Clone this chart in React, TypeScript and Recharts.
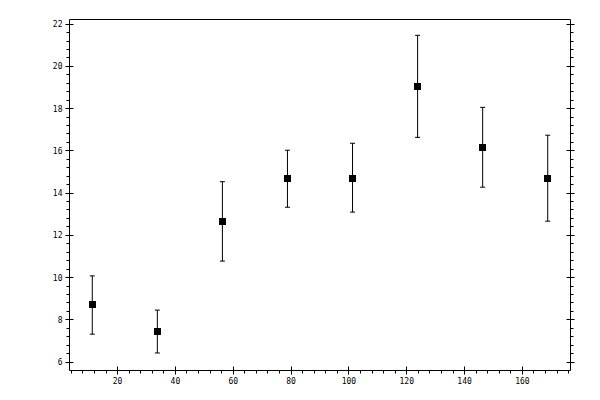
import { ScatterChart, Scatter, XAxis, YAxis, ErrorBar } from "recharts";

const X_VALUES = [11.25, 33.75, 56.25, 78.75, 101.25, 123.75, 146.25, 168.75];
const Y_VALUES = [8.71, 7.47, 12.67, 14.7, 14.7, 19.06, 16.17, 14.7];
const Y_LOW = [7.32, 6.43, 10.78, 13.33, 13.1, 16.64, 14.28, 12.67];
const Y_HIGH = [10.08, 8.46, 14.54, 16.03, 16.36, 21.47, 18.06, 16.74];

const X_LABELS = [20, 40, 60, 80, 100, 120, 140, 160];
const Y_LABELS = [6, 8, 10, 12, 14, 16, 18, 20, 22];
const X_DOMAIN: [number, number] = [3.375, 176.625];
const Y_DOMAIN: [number, number] = [5.6, 22.22];
const X_MINOR_STEP = 4;
const Y_MINOR_STEP = 0.4;

const data = X_VALUES.map((x, i) => ({
  x,
  y: Y_VALUES[i],
  err: [Y_VALUES[i] - Y_LOW[i], Y_HIGH[i] - Y_VALUES[i]],
}));

// majors plus the minor ticks between them, kept inside the domain
function withMinor(majors: number[], step: number, domain: [number, number]) {
  const spacing = majors[1] - majors[0];
  const n = Math.round(spacing / step);
  const out: number[] = [];
  for (let j = -1; j <= majors.length; j++) {
    const m = majors[0] + j * spacing;
    for (let k = 0; k < n; k++) {
      const v = +(m + k * step).toFixed(3);
      if (v > domain[0] + 1e-6 && v < domain[1] - 1e-6) out.push(v);
    }
  }
  return out;
}

const xTicks = withMinor(X_LABELS, X_MINOR_STEP, X_DOMAIN);
const yTicks = withMinor(Y_LABELS, Y_MINOR_STEP, Y_DOMAIN);

const FONT = "'DejaVu Sans Mono', monospace";

function makeTick(side: "bottom" | "top" | "left" | "right") {
  const majors = side === "bottom" || side === "top" ? X_LABELS : Y_LABELS;
  return (props: any) => {
    const { x, y, payload } = props;
    const v = payload.value;
    const major = majors.includes(v);
    const px = Math.floor(x) + 0.5;
    const py = Math.floor(y) + 0.5;
    let line;
    if (side === "bottom" || side === "top") {
      const out = side === "bottom" ? 1 : -1;
      line = major ? (
        <line x1={px} x2={px} y1={py - 4} y2={py + 4} stroke="#000" />
      ) : (
        <line x1={px} x2={px} y1={py} y2={py + out * 3} stroke="#000" />
      );
    } else {
      const out = side === "right" ? 1 : -1;
      line = major ? (
        <line x1={px - 4} x2={px + 4} y1={py} y2={py} stroke="#000" />
      ) : (
        <line x1={px} x2={px + out * 3} y1={py} y2={py} stroke="#000" />
      );
    }
    return (
      <g>
        {line}
        {major && side === "bottom" && (
          <text x={x} y={y + 13} textAnchor="middle" fontSize={8} fontFamily={FONT} fill="#000">
            {v}
          </text>
        )}
        {major && side === "left" && (
          <text x={x - 7} y={y + 3} textAnchor="end" fontSize={8} fontFamily={FONT} fill="#000">
            {v}
          </text>
        )}
      </g>
    );
  };
}

const SquareDot = (props: any) => {
  const { cx, cy } = props;
  return <rect x={Math.floor(cx) - 3} y={Math.floor(cy) - 3} width={7} height={7} fill="#000" />;
};

const axisLine = { stroke: "#000", strokeWidth: 1 };

export default function App() {
  return (
    <div style={{ position: "absolute", left: 0, top: 0, background: "#fff" }}>
      <ScatterChart
        width={600}
        height={400}
        margin={{ top: 0.5, right: 0.5, bottom: 0.5, left: 0.5 }}
      >
        <XAxis
          xAxisId="bottom"
          orientation="bottom"
          type="number"
          dataKey="x"
          domain={X_DOMAIN}
          allowDataOverflow
          ticks={xTicks}
          interval={0}
          height={29}
          tickSize={0}
          tickMargin={0}
          axisLine={axisLine}
          tickLine={false}
          tick={makeTick("bottom")}
        />
        <XAxis
          xAxisId="top"
          orientation="top"
          type="number"
          domain={X_DOMAIN}
          allowDataOverflow
          ticks={xTicks}
          interval={0}
          height={19}
          tickSize={0}
          tickMargin={0}
          axisLine={axisLine}
          tickLine={false}
          tick={makeTick("top")}
        />
        <YAxis
          yAxisId="left"
          orientation="left"
          type="number"
          dataKey="y"
          domain={Y_DOMAIN}
          allowDataOverflow
          ticks={yTicks}
          interval={0}
          width={69}
          tickSize={0}
          tickMargin={0}
          axisLine={axisLine}
          tickLine={false}
          tick={makeTick("left")}
        />
        <YAxis
          yAxisId="right"
          orientation="right"
          type="number"
          domain={Y_DOMAIN}
          allowDataOverflow
          ticks={yTicks}
          interval={0}
          width={29}
          tickSize={0}
          tickMargin={0}
          axisLine={axisLine}
          tickLine={false}
          tick={makeTick("right")}
        />
        <Scatter
          data={data}
          xAxisId="bottom"
          yAxisId="left"
          fill="#000"
          shape={SquareDot}
          isAnimationActive={false}
        >
          <ErrorBar
            dataKey="err"
            direction="y"
            width={2.5}
            stroke="#000"
            strokeWidth={1}
            isAnimationActive={false}
          />
        </Scatter>
      </ScatterChart>
    </div>
  );
}
